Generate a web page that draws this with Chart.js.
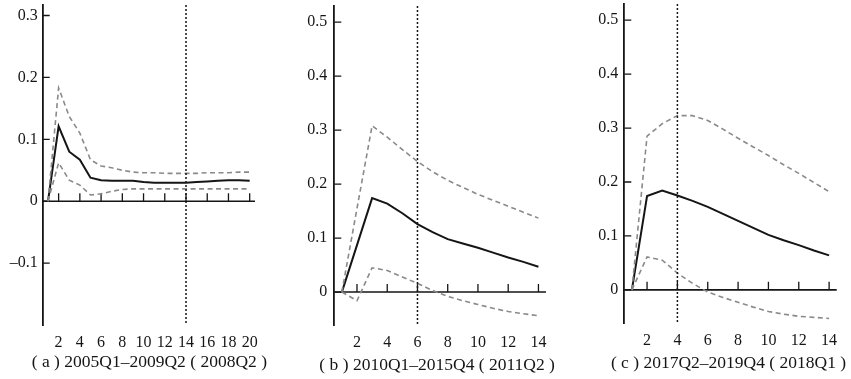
<!DOCTYPE html>
<html><head><meta charset="utf-8">
<script src="https://cdn.jsdelivr.net/npm/chart.js@4.4.1/dist/chart.umd.min.js"></script>
<style>
html,body{margin:0;padding:0;background:#fff;width:851px;height:379px;overflow:hidden}
.p{position:absolute;top:0}
canvas{display:block}
</style></head><body>
<div class="p" style="left:0px"><canvas id="ca" width="290" height="379"></canvas></div>
<div class="p" style="left:290px"><canvas id="cb" width="280" height="379"></canvas></div>
<div class="p" style="left:570px"><canvas id="cc" width="281" height="379"></canvas></div>
<script>
// ---- Panel (a) ----
const periodsA = [1,2,3,4,5,6,7,8,9,10,11,12,13,14,15,16,17,18,19,20];
const meanA  = [0,0.121,0.080,0.067,0.038,0.034,0.033,0.033,0.033,0.031,0.030,0.030,0.030,0.030,0.031,0.032,0.033,0.034,0.034,0.033];
const upperA = [0,0.183,0.137,0.110,0.067,0.057,0.054,0.050,0.047,0.046,0.046,0.045,0.045,0.045,0.045,0.046,0.046,0.046,0.047,0.047];
const lowerA = [0,0.062,0.034,0.026,0.010,0.012,0.016,0.019,0.020,0.020,0.020,0.020,0.020,0.020,0.020,0.020,0.020,0.020,0.020,0.020];
const xTicksA = [2,4,6,8,10,12,14,16,18,20];
const yTicksA = [-0.1,0,0.1,0.2,0.3];
const markA = 14;
const titleA = '( a ) 2005Q1–2009Q2 ( 2008Q2 )';

// ---- Panel (b) ----
const periodsB = [1,2,3,4,5,6,7,8,9,10,11,12,13,14];
const meanB  = [0,0.087,0.174,0.164,0.146,0.126,0.111,0.098,0.090,0.082,0.073,0.064,0.056,0.047];
const upperB = [0,0.155,0.308,0.287,0.264,0.242,0.223,0.207,0.194,0.181,0.170,0.159,0.148,0.137];
const lowerB = [0,-0.016,0.045,0.040,0.028,0.016,0.003,-0.008,-0.016,-0.023,-0.030,-0.036,-0.040,-0.044];
const xTicksB = [2,4,6,8,10,12,14];
const yTicksB = [0,0.1,0.2,0.3,0.4,0.5];
const markB = 6;
const titleB = '( b ) 2010Q1–2015Q4 ( 2011Q2 )';

// ---- Panel (c) ----
const periodsC = [1,2,3,4,5,6,7,8,9,10,11,12,13,14];
const meanC  = [0,0.174,0.184,0.175,0.165,0.154,0.141,0.128,0.115,0.102,0.092,0.083,0.073,0.064];
const upperC = [0,0.285,0.308,0.323,0.323,0.314,0.298,0.281,0.265,0.249,0.232,0.216,0.199,0.182];
const lowerC = [0,0.061,0.055,0.031,0.012,-0.004,-0.014,-0.023,-0.032,-0.040,-0.045,-0.049,-0.051,-0.053];
const xTicksC = [2,4,6,8,10,12,14];
const yTicksC = [0,0.1,0.2,0.3,0.4,0.5];
const markC = 4;
const titleC = '( c ) 2017Q2–2019Q4 ( 2018Q1 )';

const FAMILY = '"Liberation Serif", "DejaVu Serif", serif';
const TICK_FONT = {family: FAMILY, size: 16};
const TITLE_FONT_CSS = '17.5px ' + FAMILY;
const INK = '#151515';

const decor = {
  id: 'decor',
  beforeDatasetsDraw(chart, args, opts) {
    const {ctx, chartArea: a, scales: {x, y}} = chart;
    ctx.save();
    ctx.strokeStyle = INK;
    const y0 = y.getPixelForValue(0);
    ctx.lineWidth = 1.6;
    ctx.beginPath(); ctx.moveTo(a.left, y0); ctx.lineTo(a.right, y0); ctx.stroke();
    ctx.lineWidth = 1.3;
    ctx.beginPath();
    x.ticks.forEach(t => { const px = x.getPixelForValue(t.value); ctx.moveTo(px, y0); ctx.lineTo(px, y0 - 8); });
    y.ticks.forEach(t => { const py = y.getPixelForValue(t.value); ctx.moveTo(a.left, py); ctx.lineTo(a.left + 7, py); });
    ctx.stroke();
    ctx.restore();
  },
  afterDatasetsDraw(chart, args, opts) {
    const {ctx, chartArea: a, scales: {x}} = chart;
    const vx = x.getPixelForValue(opts.mark);
    ctx.save();
    ctx.strokeStyle = INK;
    ctx.lineWidth = 1.5;
    ctx.setLineDash([2, 2]);
    ctx.beginPath(); ctx.moveTo(vx, a.top); ctx.lineTo(vx, a.bottom); ctx.stroke();
    ctx.restore();
  },
  afterDraw(chart, args, opts) {
    const {ctx, scales: {x}} = chart;
    ctx.save();
    ctx.font = TITLE_FONT_CSS;
    ctx.fillStyle = INK;
    ctx.textAlign = 'center';
    ctx.textBaseline = 'middle';
    ctx.fillText(opts.title, (x.left + x.right) / 2 + opts.dx, opts.titleY);
    ctx.restore();
  }
};

function pts(xs, ys) { return xs.map((p, i) => ({x: p, y: ys[i]})); }

function makeChart(id, periods, mean, upper, lower, xTicks, yTicks, mark, title, g) {
  const band = {borderColor: '#8a8a8a', borderWidth: 1.6, borderDash: [5, 3.5], pointRadius: 0, fill: false, tension: 0};
  new Chart(document.getElementById(id), {
    type: 'line',
    data: {
      datasets: [
        Object.assign({label: 'upper', data: pts(periods, upper)}, band),
        Object.assign({label: 'lower', data: pts(periods, lower)}, band),
        {label: 'mean', data: pts(periods, mean), borderColor: INK, borderWidth: 2, pointRadius: 0, fill: false, tension: 0}
      ]
    },
    options: {
      responsive: false,
      animation: false,
      events: [],
      layout: {padding: {left: g.padL, right: g.padR, top: g.top, bottom: 0}},
      plugins: {legend: {display: false}, tooltip: {enabled: false},
        decor: {mark: mark, title: title, titleY: g.titleY, dx: g.dx}},
      scales: {
        x: {
          type: 'linear', position: 'bottom',
          min: 0.5, max: periods[periods.length - 1] + 0.5,
          afterBuildTicks: s => { s.ticks = xTicks.map(v => ({value: v})); },
          afterFit: s => { s.height = g.xH; s.paddingLeft = 0; s.paddingRight = 0; },
          grid: {display: false, drawTicks: false}, border: {display: false},
          ticks: {font: TICK_FONT, color: INK, padding: 8, autoSkip: false, maxRotation: 0, callback: v => String(v)},
          title: {display: false}
        },
        y: {
          min: g.ymin, max: g.ymax,
          afterBuildTicks: s => { s.ticks = yTicks.map(v => ({value: v})); },
          afterFit: s => { s.width = 40; s.paddingTop = 0; s.paddingBottom = 0; },
          grid: {display: false, drawTicks: false},
          border: {display: true, color: INK, width: 1.8},
          ticks: {font: TICK_FONT, color: INK, padding: g.yPad,
            callback: v => v === 0 ? '0' : (v < 0 ? '–' + Math.abs(v).toFixed(1) : v.toFixed(1))}
        }
      }
    },
    plugins: [decor]
  });
}

makeChart('ca', periodsA, meanA, upperA, lowerA, xTicksA, yTicksA, markA, titleA,
  {padL: 2.7, padR: 35, top: 5, xH: 54, titleY: 362.5, dx: 0.5, yPad: 5, ymin: -0.2, ymax: 0.317});
makeChart('cb', periodsB, meanB, upperB, lowerB, xTicksB, yTicksB, markB, titleB,
  {padL: 4.3, padR: 24, top: 6, xH: 54, titleY: 365.5, dx: -3, yPad: 7, ymin: -0.061, ymax: 0.53});
makeChart('cc', periodsC, meanC, upperC, lowerC, xTicksC, yTicksC, markC, titleC,
  {padL: 14.3, padR: 14.3, top: 4, xH: 55.7, titleY: 363, dx: -2, yPad: 6, ymin: -0.062, ymax: 0.53});
</script>
</body></html>
